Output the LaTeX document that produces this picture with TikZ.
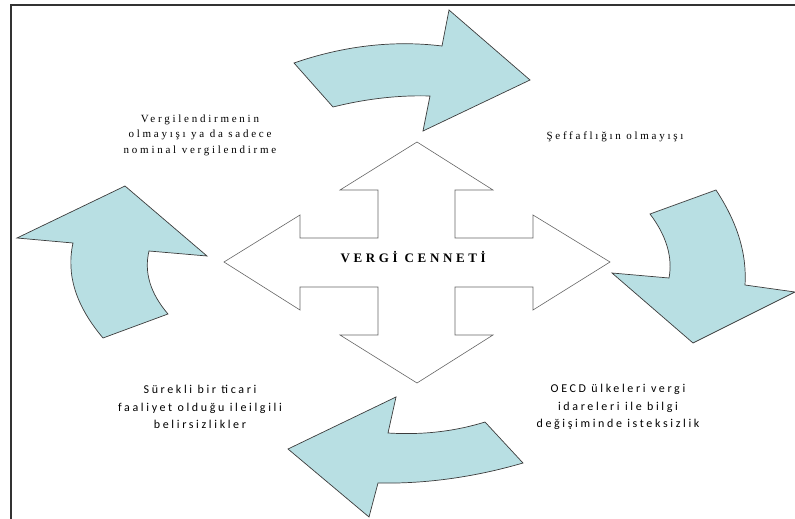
\documentclass[tikz,border=0pt]{standalone}
\usepackage{fontspec}
\usepackage{xcolor}
\usepackage{tikz}
\setmainfont{Liberation Serif}
\newfontfamily\serifspaced[LetterSpace=25]{Liberation Serif}
\newfontfamily\sansspaced[LetterSpace=22]{Carlito}
\definecolor{arrowfill}{RGB}{184,223,227}
\definecolor{arrowline}{RGB}{60,60,60}
\tikzset{
	curvedarrow/.style={fill=arrowfill,draw=arrowline,line width=0.7pt,line join=miter},
	crossarrow/.style={fill=white,draw=black!60,line width=0.6pt},
	serifnote/.style={font=\fontsize{11}{15.5}\selectfont\serifspaced,align=center},
	sansnote/.style={font=\fontsize{12}{17.5}\selectfont\sansspaced,align=center}
}

\begin{document}
\begin{tikzpicture}[transform shape,x=1pt,y=-1pt]
		\useasboundingbox (0,0) rectangle (795,519);
		% frame
		\draw[line width=1.2pt,black!80] (11,519) -- (11,5) -- (795,5);
		% curved arrows
		\draw[curvedarrow] (294,63) .. controls (343,46) and (393,40) .. (442,46) -- (449,10) -- (530,80) -- (423,131) -- (430,96) .. controls (398,95) and (365,99) .. (333,107) -- cycle;
		\draw[curvedarrow] (716,190) .. controls (737,222) and (747,253) .. (745,285) -- (795,292) -- (693,343) -- (612,273) -- (669,278) .. controls (673,257) and (666,235) .. (650,214) -- cycle;
		\draw[curvedarrow] (523,463) .. controls (475,477) and (426,484) .. (378,483) -- (369,517) -- (288,449) -- (396,397) -- (388,433) .. controls (420,435) and (453,432) .. (485,422) -- cycle;
		\draw[curvedarrow] (103,338) .. controls (76,306) and (66,275) .. (73,243) -- (17,238) -- (125,186) -- (207,256) -- (149,251) .. controls (144,272) and (150,293) .. (168,314) -- cycle;
		% four way arrow
		\draw[crossarrow] (417,142) -- (493,190) -- (455,190) -- (455,238) -- (533,238) -- (533,215) -- (610,262) -- (533,310) -- (533,287) -- (455,287) -- (455,335) -- (493,335) -- (417,383) -- (340,335) -- (378,335) -- (378,287) -- (300,287) -- (300,310) -- (224,262) -- (300,215) -- (300,238) -- (378,238) -- (378,190) -- (340,190) -- cycle;
		\node (cennet) at (415,257) {\fontsize{13}{15}\selectfont\addfontfeature{LetterSpace=28}\textbf{VERGİ CENNETİ}};
		% labels
		\node[serifnote] (vergilendirme) at (200,135) {Vergilendirmenin\\olmayışı ya da sadece\\nominal vergilendirme};
		\node[serifnote] (seffaflik) at (615,137) {Şeffaflığın olmayışı};
		\node[sansnote] (belirsizlik) at (200,407) {Sürekli bir ticari\\faaliyet olduğu ileilgili\\belirsizlikler};
		\node[sansnote] (oecd) at (618,407) {OECD ülkeleri vergi\\idareleri ile bilgi\\değişiminde isteksizlik};
	\end{tikzpicture}
\end{document}
